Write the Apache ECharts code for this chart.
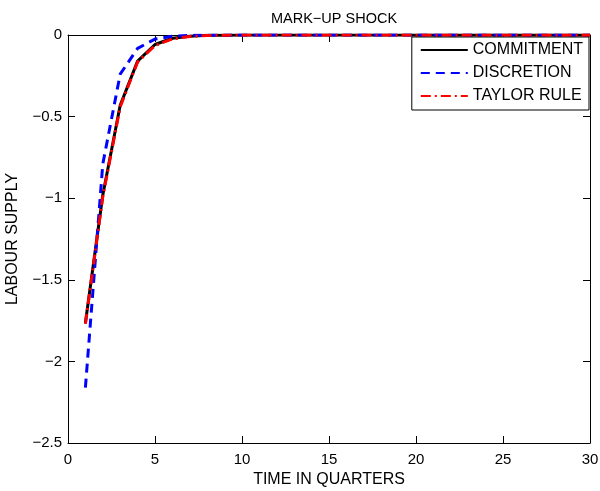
<!DOCTYPE html>
<html>
<head>
<meta charset="utf-8">
<script src="https://cdn.jsdelivr.net/npm/echarts@6/dist/echarts.min.js"></script>
<style>
  html, body { margin: 0; padding: 0; background: #fff; }
  #chart { width: 600px; height: 491px; }
</style>
</head>
<body>
<div id="chart"></div>
<script>
// quarters 1..30
const quarters = [1, 2, 3, 4, 5, 6, 7, 8, 9, 10, 11, 12, 13, 14, 15, 16, 17, 18, 19, 20, 21, 22, 23, 24, 25, 26, 27, 28, 29, 30]

const commitment = [-1.765, -0.98, -0.43, -0.16, -0.058, -0.02, -0.007, -0.002, -0.001, 0, 0, 0, 0, 0, 0, 0, 0, 0, 0, 0, 0, 0, 0, 0, 0, 0, 0, 0, 0, 0]
const discretion = [-2.16, -0.79, -0.24, -0.082, -0.025, -0.008, -0.002, -0.001, 0, 0, 0, 0, 0, 0, 0, 0, 0, 0, 0, 0, 0, 0, 0, 0, 0, 0, 0, 0, 0, 0]
const taylorRule = [-1.77, -0.99, -0.44, -0.165, -0.064, -0.024, -0.009, -0.003, -0.001, 0, 0, 0, 0, 0, 0, 0, 0, 0, 0, 0, 0, 0, 0, 0, 0, 0, 0, 0, 0, 0]

// axis ranges (ticks every 5 quarters / 0.5)
const xRange = [0, 30, 5]
const yRange = [-2.5, 0, 0.5]

const pairs = (vals) => quarters.map((q, i) => [q, vals[i]])
const minus = (v) => String(v).replace('-', '\u2212')

const font = 'Liberation Sans, Arial, sans-serif'
// fresh objects for every axis
const tickStyle = () => ({ show: true, inside: true, length: 7, lineStyle: { color: '#000', width: 1 } })
const lineAxis = () => ({ show: true, onZero: false, lineStyle: { color: '#000', width: 1 } })

const chart = echarts.init(document.getElementById('chart'))

chart.setOption({
  animation: false,
  backgroundColor: '#fff',
  title: {
    text: 'MARK\u2212UP SHOCK',
    left: 329,
    top: 6,
    textAlign: 'center',
    textStyle: { fontFamily: font, fontSize: 14.5, fontWeight: 'normal', color: '#000' }
  },
  grid: { left: 68, right: 10, top: 35, bottom: 48, outerBoundsMode: 'none', containLabel: false },
  legend: {
    orient: 'vertical',
    right: 11,
    top: 37,
    itemWidth: 47,
    itemHeight: 10,
    itemGap: 7,
    padding: [5, 6, 6, 8],
    borderColor: '#000',
    borderWidth: 1,
    backgroundColor: '#fff',
    itemStyle: { opacity: 0 },
    textStyle: { fontFamily: font, fontSize: 16, color: '#000' },
    data: ['COMMITMENT', 'DISCRETION', 'TAYLOR RULE']
  },
  xAxis: [
    {
      type: 'value', min: xRange[0], max: xRange[1], interval: xRange[2],
      name: 'TIME IN QUARTERS', nameLocation: 'middle', nameGap: 26,
      nameTextStyle: { fontFamily: font, fontSize: 16, color: '#000' },
      axisLine: lineAxis(), axisTick: tickStyle(), splitLine: { show: false },
      axisLabel: { fontFamily: font, fontSize: 15, color: '#000', margin: 9, formatter: (v) => minus(v) }
    },
    {
      type: 'value', min: xRange[0], max: xRange[1], interval: xRange[2], position: 'top',
      axisLine: lineAxis(), axisTick: tickStyle(), splitLine: { show: false },
      axisLabel: { formatter: () => '' }
    }
  ],
  yAxis: [
    {
      type: 'value', min: yRange[0], max: yRange[1], interval: yRange[2],
      name: 'LABOUR SUPPLY', nameLocation: 'middle', nameGap: 47,
      nameTextStyle: { fontFamily: font, fontSize: 16, color: '#000' },
      axisLine: lineAxis(), axisTick: tickStyle(), splitLine: { show: false },
      axisLabel: { fontFamily: font, fontSize: 15, color: '#000', margin: 6, formatter: (v) => minus(v) }
    },
    {
      type: 'value', min: yRange[0], max: yRange[1], interval: yRange[2], position: 'right',
      axisLine: lineAxis(), axisTick: tickStyle(), splitLine: { show: false },
      axisLabel: { formatter: () => '' }
    }
  ],
  series: [
    {
      name: 'COMMITMENT', type: 'line', data: pairs(commitment),
      showSymbol: false, symbol: 'none', z: 2,
      itemStyle: { color: '#000' },
      lineStyle: { color: '#000', width: 3 }
    },
    {
      name: 'DISCRETION', type: 'line', data: pairs(discretion),
      showSymbol: false, symbol: 'none', z: 3,
      itemStyle: { color: '#0000ff' },
      lineStyle: { color: '#0000ff', width: 3, type: [9, 6] }
    },
    {
      name: 'TAYLOR RULE', type: 'line', data: pairs(taylorRule),
      showSymbol: false, symbol: 'none', z: 4,
      itemStyle: { color: '#ff0000' },
      lineStyle: { color: '#ff0000', width: 3, type: [10, 4, 2, 4] }
    }
  ]
})
</script>
</body>
</html>
